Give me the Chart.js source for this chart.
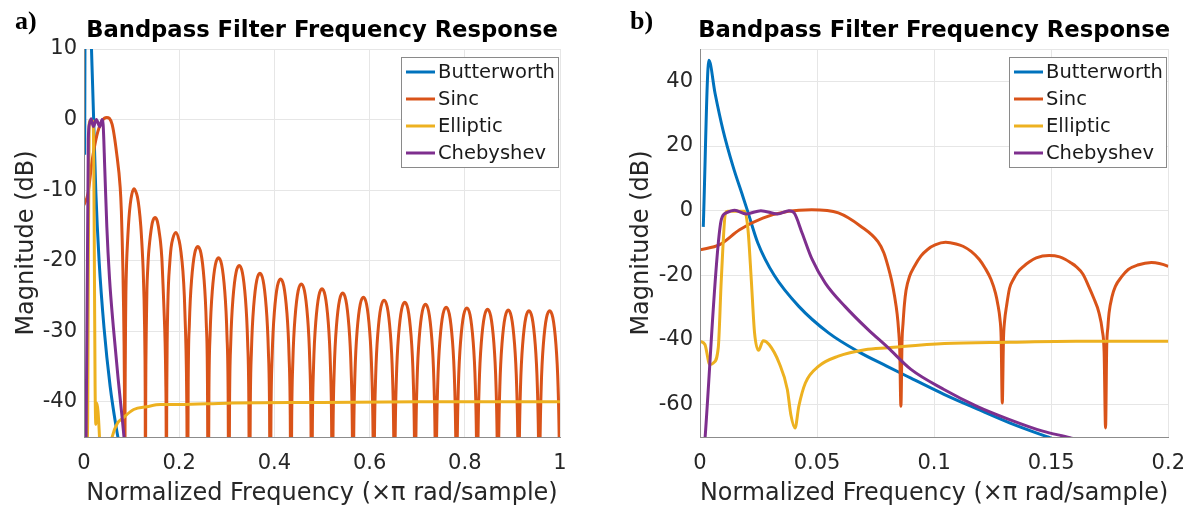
<!DOCTYPE html>
<html>
<head>
<meta charset="utf-8">
<script src="https://cdn.jsdelivr.net/npm/chart.js@4.4.1/dist/chart.umd.min.js"></script>
<style>
  body { margin: 0; background: #fff; }
  .panel { position: absolute; top: 0; height: 510px; }
  #panelA { left: 0; width: 600px; }
  #panelB { left: 600px; width: 599px; }
</style>
</head>
<body>
<div class="panel" id="panelA"><canvas id="chartA" width="600" height="510"></canvas></div>
<div class="panel" id="panelB"><canvas id="chartB" width="599" height="510"></canvas></div>
<script>
// Series as [normalized frequency, magnitude dB]

const seriesNames = ['Butterworth', 'Sinc', 'Elliptic', 'Chebyshev'];

const butterworth = [
    [0.0014, -5.0], [0.0038, 46.5], [0.0064, 36.4], [0.0098, 25.0], [0.0141, 13.7],
    [0.0183, 4.4], [0.0204, -0.3], [0.0247, -10.0], [0.0317, -20.0], [0.0422, -29.6],
    [0.0549, -37.8], [0.0676, -43.6], [0.0795, -48.0], [0.0901, -51.8], [0.1042, -56.8],
    [0.1183, -61.3], [0.1322, -65.6], [0.1486, -70.0], [0.159, -72.6]
];

const sinc = [
    // main lobe
    [0, -12.1], [0.0084, -10.5], [0.0169, -5.9], [0.0268, -2.3], [0.0378, -0.2], [0.0477, 0.3],
    [0.0591, -0.7], [0.0686, -4.8], [0.0760, -9.6], [0.0785, -13.0], [0.0803, -17.2], [0.0818, -21.5],
    [0.0831, -26.5], [0.0842, -32.0], [0.0848, -36.8], [0.0853, -43.0], [0.0858, -60.5],
    // side lobes seen in both panels
    [0.0863, -40.0], [0.0867, -35.0], [0.0873, -29.0], [0.0880, -24.6], [0.0895, -20.3], [0.0916, -17.2],
    [0.0944, -14.0], [0.0972, -12.0], [0.1004, -10.6], [0.1049, -9.8], [0.1094, -10.3], [0.1123, -11.0],
    [0.1158, -12.6], [0.1193, -15.1], [0.1218, -17.8], [0.1243, -21.3], [0.1262, -25.5], [0.1272, -29.0],
    [0.1281, -33.5], [0.1286, -39.0], [0.1291, -59.5],
    [0.1296, -40.0], [0.1301, -34.0], [0.1309, -29.6], [0.1322, -24.0], [0.1338, -21.3], [0.1357, -19.0],
    [0.1382, -17.2], [0.1407, -15.8], [0.1436, -14.6], [0.1491, -13.9], [0.1536, -14.3], [0.1561, -15.1],
    [0.1585, -16.2], [0.1605, -17.2], [0.1635, -19.6], [0.1660, -23.4], [0.1680, -26.8], [0.1704, -31.6],
    [0.1718, -37.0], [0.1726, -44.0], [0.1732, -67.2],
    [0.1737, -42.0], [0.1742, -36.0], [0.1747, -31.6], [0.1760, -26.5], [0.1774, -23.4], [0.1800, -20.5],
    [0.1829, -18.2], [0.1869, -16.8], [0.1928, -16.0], [0.2000, -17.2], [0.2038, -18.8], [0.2078, -21.5],
    [0.2108, -25.0], [0.2133, -30.0], [0.2150, -35.0], [0.2162, -42.0], [0.2174, -60],
    // side lobes seen only in panel a
    [0.2189, -37.3], [0.2214, -28.9], [0.2259, -22.8], [0.2391, -18.0], [0.2524, -22.8], [0.2569, -28.9], [0.2594, -37.3], [0.2609, -60],
    [0.2624, -38.9], [0.2649, -30.5], [0.2694, -24.4], [0.2826, -19.6], [0.2958, -24.4], [0.3003, -30.5], [0.3028, -38.9], [0.3043, -60],
    [0.3058, -40.0], [0.3083, -31.6], [0.3128, -25.5], [0.3261, -20.7], [0.3393, -25.5], [0.3438, -31.6], [0.3463, -40.0], [0.3478, -60],
    [0.3493, -41.1], [0.3518, -32.7], [0.3563, -26.6], [0.3696, -21.8], [0.3828, -26.6], [0.3873, -32.7], [0.3898, -41.1], [0.3913, -60],
    [0.3928, -41.9], [0.3953, -33.5], [0.3998, -27.4], [0.4130, -22.6], [0.4263, -27.4], [0.4308, -33.5], [0.4333, -41.9], [0.4348, -60],
    [0.4363, -42.6], [0.4388, -34.2], [0.4433, -28.1], [0.4565, -23.3], [0.4698, -28.1], [0.4743, -34.2], [0.4768, -42.6], [0.4783, -60],
    [0.4798, -43.3], [0.4823, -34.9], [0.4868, -28.8], [0.5000, -24.0], [0.5132, -28.8], [0.5177, -34.9], [0.5202, -43.3], [0.5217, -60],
    [0.5232, -43.9], [0.5257, -35.5], [0.5302, -29.4], [0.5435, -24.6], [0.5567, -29.4], [0.5612, -35.5], [0.5637, -43.9], [0.5652, -60],
    [0.5667, -44.5], [0.5692, -36.1], [0.5737, -30.0], [0.5870, -25.2], [0.6002, -30.0], [0.6047, -36.1], [0.6072, -44.5], [0.6087, -60],
    [0.6102, -44.9], [0.6127, -36.5], [0.6172, -30.4], [0.6304, -25.6], [0.6437, -30.4], [0.6482, -36.5], [0.6507, -44.9], [0.6522, -60],
    [0.6537, -45.2], [0.6562, -36.8], [0.6607, -30.7], [0.6739, -25.9], [0.6872, -30.7], [0.6917, -36.8], [0.6942, -45.2], [0.6957, -60],
    [0.6972, -45.5], [0.6997, -37.1], [0.7042, -31.0], [0.7174, -26.2], [0.7306, -31.0], [0.7351, -37.1], [0.7376, -45.5], [0.7391, -60],
    [0.7406, -45.9], [0.7431, -37.5], [0.7476, -31.4], [0.7609, -26.6], [0.7741, -31.4], [0.7786, -37.5], [0.7811, -45.9], [0.7826, -60],
    [0.7841, -46.0], [0.7866, -37.6], [0.7911, -31.5], [0.8043, -26.7], [0.8176, -31.5], [0.8221, -37.6], [0.8246, -46.0], [0.8261, -60],
    [0.8276, -46.2], [0.8301, -37.8], [0.8346, -31.7], [0.8478, -26.9], [0.8611, -31.7], [0.8656, -37.8], [0.8681, -46.2], [0.8696, -60],
    [0.8711, -46.3], [0.8736, -37.9], [0.8781, -31.8], [0.8913, -27.0], [0.9045, -31.8], [0.9090, -37.9], [0.9115, -46.3], [0.9130, -60],
    [0.9145, -46.4], [0.9170, -38.0], [0.9215, -31.9], [0.9348, -27.1], [0.9480, -31.9], [0.9525, -38.0], [0.9550, -46.4], [0.9565, -60],
    [0.9580, -46.4], [0.9605, -38.0], [0.9650, -31.9], [0.9783, -27.1], [0.9915, -31.9], [0.9960, -38.0], [0.9985, -46.4], [1.0, -60]
];

const elliptic = [
    [0, -40.4], [0.0021, -41.4], [0.0042, -47.6], [0.0057, -47.1], [0.0078, -42.4], [0.0091, -21.3],
    [0.0109, -0.7], [0.0119, -0.2], [0.0190, -0.2], [0.0205, -5.9], [0.0219, -21.3], [0.0233, -37.8],
    [0.0250, -43.2], [0.0270, -40.2], [0.0295, -41.4], [0.0338, -47.1], [0.0373, -55.3], [0.0388, -63.1],
    [0.0406, -67.2], [0.0422, -60.5], [0.0450, -53.3], [0.0507, -48.1], [0.0591, -45.0], [0.0704, -43.0],
    [0.0802, -42.4], [0.1044, -41.1], [0.1322, -40.7], [0.1605, -40.4], [0.2, -40.4], [0.3, -40.2],
    [0.5, -40.1], [0.7, -40.0], [1.0, -40.0]
];

const chebyshev = [
    [0.0020, -72], [0.0091, -2.8], [0.0112, -0.7], [0.0148, 0.1], [0.0197, -1.0], [0.0260, 0],
    [0.0331, -1.0], [0.0380, 0], [0.0402, -0.7], [0.0436, -6.9], [0.0479, -15.1], [0.0535, -22.4],
    [0.0619, -29.6], [0.0718, -36.8], [0.0802, -42.3], [0.0901, -49.1], [0.1042, -55.3], [0.1183, -60.5],
    [0.1322, -64.6], [0.1464, -68.2], [0.1580, -70.2], [0.1690, -72.5]
];

// Axis ticks for each panel
const aXTicks = [0, 0.2, 0.4, 0.6, 0.8, 1];
const aYTicks = [-40, -30, -20, -10, 0, 10];
const bXTicks = [0, 0.05, 0.1, 0.15, 0.2];
const bYTicks = [-60, -40, -20, 0, 20, 40];

const seriesColors = ['#0072BD', '#D95319', '#EDB120', '#7E2F8E'];
const chartTitle = 'Bandpass Filter Frequency Response';
const font = 'DejaVu Sans';

const toPoints = (arr) => arr.map(([x, y]) => ({ x, y }));

// title, panel letter and the boxed legend inside the axes
const panelDecor = {
    id: 'panelDecor',
    afterDraw(chart, args, opts) {
        const { ctx, chartArea } = chart;
        ctx.save();
        ctx.fillStyle = '#000';
        ctx.font = 'bold 26px "Liberation Serif"';
        ctx.textAlign = 'left';
        ctx.textBaseline = 'alphabetic';
        ctx.fillText(opts.letter, opts.letterX, 29);

        ctx.font = `bold 22.7px "${font}"`;
        ctx.textAlign = 'center';
        ctx.fillText(chartTitle, (chartArea.left + chartArea.right) / 2, 37);

        const w = 157, h = 110;
        const x0 = Math.round(chartArea.right) - 2 - w;
        const y0 = Math.round(chartArea.top) + 8;
        ctx.fillStyle = '#fff';
        ctx.fillRect(x0, y0, w, h);
        ctx.strokeStyle = '#8a8a8a';
        ctx.lineWidth = 1;
        ctx.strokeRect(x0 + 0.5, y0 + 0.5, w, h);
        chart.data.datasets.forEach((ds, i) => {
            const y = y0 + 15 + i * 27;
            ctx.strokeStyle = ds.borderColor;
            ctx.lineWidth = 3;
            ctx.beginPath();
            ctx.moveTo(x0 + 5, y);
            ctx.lineTo(x0 + 34, y);
            ctx.stroke();
            ctx.fillStyle = '#1a1a1a';
            ctx.font = `19.5px "${font}"`;
            ctx.textAlign = 'left';
            ctx.textBaseline = 'middle';
            ctx.fillText(ds.label, x0 + 37, y + 1);
        });
        ctx.restore();
    }
};

const makeChart = (canvasId, p) => {
    const datasets = [butterworth, sinc, elliptic, chebyshev].map((arr, i) => ({
        label: seriesNames[i],
        data: toPoints(arr),
        borderColor: seriesColors[i],
        backgroundColor: seriesColors[i],
        borderWidth: 3,
        pointRadius: 0,
        cubicInterpolationMode: 'monotone',
        clip: 0,
        order: 4 - i
    }));

    return new Chart(document.getElementById(canvasId), {
        type: 'line',
        data: { datasets },
        plugins: [panelDecor],
        options: {
            responsive: false,
            animation: false,
            devicePixelRatio: 1,
            layout: { padding: { top: 49, right: p.padRight, left: 0, bottom: 0 } },
            plugins: {
                legend: { display: false },
                tooltip: { enabled: false },
                title: { display: false },
                panelDecor: { letter: p.letter, letterX: p.letterX }
            },
            scales: {
                x: {
                    type: 'linear',
                    min: p.xMin,
                    max: p.xMax,
                    afterBuildTicks: (s) => { s.ticks = p.xTicks.map(v => ({ value: v })); },
                    afterFit: (s) => { s.height = 73; },
                    grid: { color: '#e6e6e6', drawTicks: false },
                    border: { color: '#8c8c8c', z: 1 },
                    ticks: {
                        autoSkip: false, maxRotation: 0, padding: 14, color: '#262626',
                        font: { family: font, size: 21 },
                        callback: (v) => String(v)
                    },
                    title: {
                        display: true, text: 'Normalized Frequency (×π rad/sample)', color: '#262626',
                        font: { family: font, size: 24 }, padding: { top: 0, bottom: 2 }
                    }
                },
                y: {
                    type: 'linear',
                    min: p.yMin,
                    max: p.yMax,
                    afterBuildTicks: (s) => {
                        const vals = [p.yMin, ...p.yTicks, p.yMax].filter((v, i, a) => a.indexOf(v) === i);
                        s.ticks = vals.map(v => ({ value: v }));
                    },
                    afterFit: (s) => { s.width = p.yWidth; },
                    grid: { color: '#e6e6e6', drawTicks: false },
                    border: { color: '#8c8c8c', z: 1 },
                    ticks: {
                        padding: 7, color: '#262626',
                        font: { family: font, size: 21 },
                        callback: (v) => p.yTicks.includes(v) ? String(v) : ''
                    },
                    title: {
                        display: true, text: 'Magnitude (dB)', color: '#262626',
                        font: { family: font, size: 24 }, padding: { top: p.yTitlePad, bottom: 0 }
                    }
                }
            }
        }
    });
};

makeChart('chartA', {
    letter: 'a)', letterX: 15, padRight: 40, yWidth: 84, yTitlePad: 12.6,
    xMin: 0, xMax: 1, yMin: -45, yMax: 10, xTicks: aXTicks, yTicks: aYTicks
});

makeChart('chartB', {
    letter: 'b)', letterX: 30, padRight: 26, yWidth: 100, yTitlePad: 27.6,
    xMin: 0, xMax: 0.2, yMin: -70, yMax: 50, xTicks: bXTicks, yTicks: bYTicks
});
</script>
</body>
</html>
